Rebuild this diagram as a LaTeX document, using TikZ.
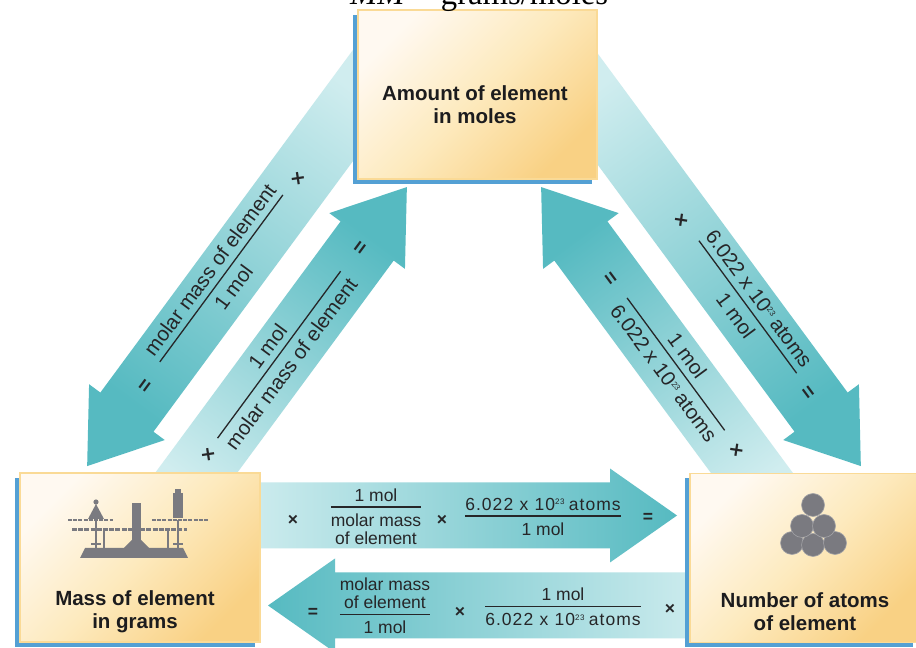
\documentclass[tikz,border=0pt]{standalone}
\usepackage{fontspec}
\setmainfont{Liberation Sans}
\newfontfamily\serifcap{Liberation Serif}
\usetikzlibrary{calc,shadows}

\definecolor{tealdark}{RGB}{86,186,193}
\definecolor{teallight}{RGB}{208,237,239}
\definecolor{boxlight}{RGB}{255,249,241}
\definecolor{boxmid}{RGB}{253,234,190}
\definecolor{boxdark}{RGB}{249,209,132}
\definecolor{boxedge}{RGB}{250,218,150}
\definecolor{boxshadow}{RGB}{84,160,212}
\definecolor{ink}{RGB}{38,38,40}
\definecolor{boxink}{RGB}{28,28,30}
\definecolor{icongray}{RGB}{122,122,128}

% stacked fraction: numerator rows, rule, denominator rows
\newcommand\frc[2]{{\setlength\tabcolsep{0pt}\setlength\arrayrulewidth{1.3pt}%
  \begin{tabular}{c}#1\\\hline\rule{0pt}{1.05em}#2\end{tabular}}}
\newcommand\avo{6.022 x 10\raisebox{0.6ex}{\fontsize{8}{8}\selectfont 23}\hspace{0.2em}atoms}
\newcommand\avoh{{\addfontfeature{LetterSpace=6}6.022\hspace{0.36em}x\hspace{0.36em}10\raisebox{0.6ex}{\fontsize{8}{8}\selectfont 23}\hspace{0.25em}atoms}}
\newcommand\tms{\textbf{×}}
\newcommand\eqs{\textbf{=}}

% block arrow: #1 start coordinate, #2 direction, #3 body length, #4 shading angle
\newcommand\blockarrow[4]{%
  \shade[bottom color=teallight, top color=tealdark, shading angle=#4,
         shift={(#1)}, rotate=#2]
    (0,33) -- (#3,33) -- (#3,47) -- ({#3+67},0) -- (#3,-47) -- (#3,-33) -- (0,-33) -- cycle;}

\begin{document}
\begin{tikzpicture}[x=1pt,y=1pt,
  panel/.style={rectangle, inner sep=0pt, minimum height=169pt,
    draw=boxedge, line width=1.5pt,
    top color=boxlight, bottom color=boxdark, middle color=boxmid, shading angle=45,
    drop shadow={shadow xshift=-5pt, shadow yshift=-5pt, fill=boxshadow, opacity=1}},
  boxtext/.style={align=center, text=boxink, inner sep=0pt,
    font=\fontsize{20.5}{23}\selectfont\bfseries},
  hform/.style={text=ink, inner sep=0pt, font=\fontsize{17.5}{18}\selectfont},
  dform/.style={text=ink, inner sep=0pt, font=\fontsize{20.5}{21}\selectfont},
  icon/.style={fill=icongray, draw=none},
  iconline/.style={draw=icongray, line width=2.4pt},
  atom/.style={circle, fill=icongray, draw=icongray!70!white, line width=0.6pt,
    minimum size=23pt, inner sep=0pt}]

\useasboundingbox (0,0) rectangle (916,648);
\clip (0,0) rectangle (916,648);
\fill[white] (0,0) rectangle (916,648);

% arrow start points and head bases
\coordinate (a0) at (388,590);   \coordinate (a1) at (127,236);
\coordinate (b0) at (171.3,141.4); \coordinate (b1) at (367,407);
\coordinate (c0) at (776.7,141.4); \coordinate (c1) at (581,407);
\coordinate (d0) at (560,590);   \coordinate (d1) at (821,236);
\coordinate (h0) at (240,132.5);
\coordinate (g0) at (710,42.5);

% block arrows between the three quantities
\blockarrow{a0}{233.6}{440}{143.6}
\blockarrow{b0}{53.6}{330}{-36.4}
\blockarrow{c0}{126.4}{330}{36.4}
\blockarrow{d0}{306.4}{440}{216.4}
\blockarrow{h0}{0}{370}{-90}
\blockarrow{g0}{180}{375}{90}

% the three quantity panels
\node[panel, minimum width=239pt] (moles) at (477.5,553.5) {};
\node[panel, minimum width=240pt] (grams) at (140,90.5) {};
\node[panel, minimum width=228pt] (atoms) at (804,90) {};

\node[boxtext] (molestext) at (475,543.5) {Amount of element\\in moles};
\node[boxtext] (gramstext) at (135,36.5) {Mass of element\\in grams};
\node[boxtext] (atomstext) at (805,36) {Number of atoms\\of element};

% balance icon
\fill[icon] (80,90) -- (188,90) -- (183,100) -- (85,100) -- cycle;
\fill[icon] (124,100) -- (149,100) -- (141,108) -- (132,108) -- cycle;
\fill[icon] (132,100) rectangle (141,145);
\draw[iconline, dash pattern=on 4pt off 1.2pt] (68,128) -- (113,128);
\draw[iconline, dash pattern=on 4pt off 1.2pt] (152,128) -- (208,128);
\draw[iconline, line width=3pt, dash pattern=on 5pt off 1.2pt] (72,118) -- (187,118);
\draw[iconline, line width=1.4pt] (96,128) -- (96,100) (178,128) -- (178,100)
  (104,118) -- (104,100) (168,118) -- (168,100);
\draw[iconline, line width=1.4pt] (91,104) -- (101,104) (173,104) -- (183,104);
\fill[icon] (88,129) -- (104,129) -- (96,144) -- cycle;
\fill[icon] (96,146) circle (2.6);
\fill[icon] (173,130) rectangle (183,155);
\fill[icon] (175,155) rectangle (181,159);

% atom pile icon
\node[atom] (at1) at (792,105) {};
\node[atom] (at2) at (813,103) {};
\node[atom] (at3) at (835,105) {};
\node[atom] (at4) at (802,122) {};
\node[atom] (at5) at (824,122) {};
\node[atom] (at6) at (813,143) {};

% grams -> atoms
\node[hform] (h1) at (293,128) {\tms};
\node[hform] (h2) at (376,129) {\frc{1 mol}{molar mass\\of element}};
\node[hform] (h3) at (442,128) {\tms};
\node[hform] (h4) at (543,129) {\frc{\avoh}{1 mol}};
\node[hform] (h5) at (648,130) {\eqs};

% atoms -> grams
\node[hform] (g1) at (313,35) {\eqs};
\node[hform] (g2) at (385,39.5) {\frc{molar mass\\of element}{1 mol}};
\node[hform] (g3) at (460,36) {\tms};
\node[hform] (g4) at (563,38.5) {\frc{1 mol}{\avoh}};
\node[hform] (g5) at (670,39) {\tms};

% moles -> grams
\node[dform, rotate=53.6] (a2) at ($(a1)!32pt!(a0)$) {\eqs};
\node[dform, rotate=53.6] (a3) at ($(a1)!163.5pt!(a0)$) {\frc{molar mass of element}{1 mol}};
\node[dform, rotate=53.6] (a4) at ($(a1)!289pt!(a0)$) {\tms};

% grams -> moles
\node[dform, rotate=53.6] (b2) at ($(b1)!9.7pt!(b0)$) {\eqs};
\node[dform, rotate=53.6] (b3) at ($(b1)!143.7pt!(b0)$) {\frc{1 mol}{molar mass of element}};
\node[dform, rotate=53.6] (b4) at ($(b1)!266.6pt!(b0)$) {\tms};

% atoms -> moles
\node[dform, rotate=-53.6] (c2) at ($(c1)!48pt!(c0)$) {\eqs};
\node[dform, rotate=-53.6] (c3) at ($(c1)!155.4pt!(c0)$) {\frc{1 mol}{\avo}};
\node[dform, rotate=-53.6] (c4) at ($(c1)!261pt!(c0)$) {\tms};

% moles -> atoms
\node[dform, rotate=-53.6] (d2) at ($(d1)!23.8pt!(d0)$) {\eqs};
\node[dform, rotate=-53.6] (d3) at ($(d1)!128pt!(d0)$) {\frc{\avo}{1 mol}};
\node[dform, rotate=-53.6] (d4) at ($(d1)!237pt!(d0)$) {\tms};

% heading formula
\node[anchor=base west, inner sep=0pt, text=black,
  font=\serifcap\fontsize{32.7}{36}\selectfont] (heading) at (350,643)
  {\textit{MM} = grams/moles};
\end{tikzpicture}
\end{document}
